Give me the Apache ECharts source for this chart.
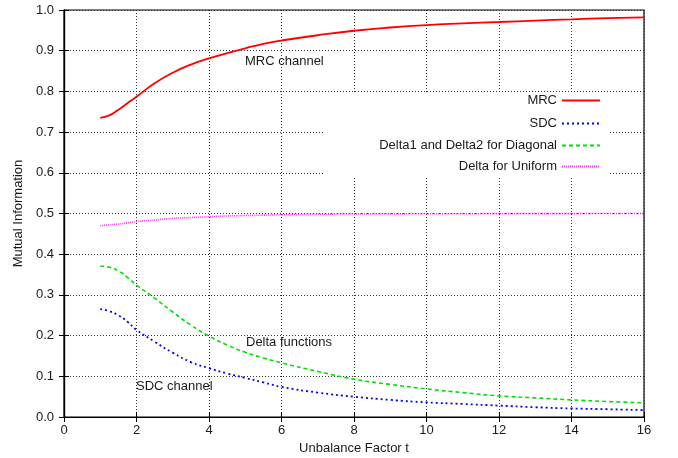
<!DOCTYPE html>
<html><head><meta charset="utf-8">
<script src="https://cdn.jsdelivr.net/npm/echarts@6/dist/echarts.min.js"></script>
<style>html,body{margin:0;padding:0;background:#fff}#c{width:678px;height:458px}</style>
</head><body><div id="c"></div>
<script>
const tValues = [1, 1.25, 1.5, 1.75, 2, 2.5, 3, 3.5, 4, 4.5, 5, 5.5, 6, 7, 8, 9, 10, 11, 12, 13, 14, 15, 16];
const mrc = [0.735, 0.741, 0.755, 0.771, 0.787, 0.820, 0.846, 0.866, 0.881, 0.894, 0.906, 0.917, 0.925, 0.938, 0.949, 0.957, 0.963, 0.967, 0.9705, 0.974, 0.977, 0.980, 0.982];
const sdc = [0.265, 0.260, 0.250, 0.234, 0.214, 0.185, 0.158, 0.135, 0.120, 0.107, 0.096, 0.085, 0.074, 0.060, 0.050, 0.042, 0.036, 0.032, 0.028, 0.024, 0.021, 0.019, 0.017];
const diag = [0.371, 0.368, 0.359, 0.343, 0.324, 0.292, 0.258, 0.226, 0.199, 0.177, 0.159, 0.145, 0.133, 0.112, 0.093, 0.080, 0.069, 0.060, 0.052, 0.047, 0.042, 0.038, 0.035];
const uniform = [0.470, 0.472, 0.474, 0.477, 0.480, 0.484, 0.488, 0.490, 0.492, 0.494, 0.495, 0.496, 0.497, 0.498, 0.499, 0.499, 0.4995, 0.4995, 0.4997, 0.4998, 0.4998, 0.4999, 0.4999];
const seriesNames = ['MRC', 'SDC', 'Delta1 and Delta2 for Diagonal', 'Delta for Uniform'];
const xTicks = [0, 2, 4, 6, 8, 10, 12, 14, 16];
const yTicks = [0, 0.1, 0.2, 0.3, 0.4, 0.5, 0.6, 0.7, 0.8, 0.9, 1.0];
const annotations = [
  {text: 'MRC channel', x: 245, y: 60},
  {text: 'Delta functions', x: 246, y: 341},
  {text: 'SDC channel', x: 136, y: 385}
];

const FONT = '"Liberation Sans", Arial, sans-serif';
const FS = 13;
const TXT = '#1a1a1a';
function pairs(v) { return tValues.map((t, i) => [t, v[i]]); }

const styles = [
  {color: '#ff0000', type: 'solid', width: 1.8},
  {color: '#0000ff', type: [2, 3], width: 1.8},
  {color: '#00e000', type: [4, 3], width: 1.6},
  {color: '#ff33ff', type: [1, 1], width: 1.6}
];
const allData = [mrc, sdc, diag, uniform];
const legendRows = [102, 125, 147, 168];

const chart = echarts.init(document.getElementById('c'), null, {renderer: 'canvas'});
const mirrorTick = {show: true, inside: true, length: 5, lineStyle: {color: '#000', width: 1}};
chart.setOption({
  animation: false,
  backgroundColor: '#fff',
  textStyle: {fontFamily: FONT},
  grid: {left: 64, right: 34, top: 10, bottom: 41, containLabel: false, outerBoundsMode: 'none',
    show: true, borderColor: '#000', borderWidth: 1.2, backgroundColor: 'transparent'},
  xAxis: [{
    type: 'value', min: xTicks[0], max: xTicks[xTicks.length - 1], interval: 2,
    name: 'Unbalance Factor t', nameLocation: 'middle', nameGap: 25,
    nameTextStyle: {fontFamily: FONT, fontSize: FS, color: TXT},
    axisLine: {show: true, onZero: false, lineStyle: {color: '#000', width: 1.2}},
    axisTick: mirrorTick,
    axisLabel: {fontFamily: FONT, fontSize: FS, color: TXT, margin: 7},
    splitLine: {show: true, lineStyle: {color: '#333', type: [1, 2], width: 1}}
  }, {
    type: 'value', position: 'top', min: xTicks[0], max: xTicks[xTicks.length - 1], interval: 2,
    axisLine: {show: true, lineStyle: {color: '#000', width: 1.2}},
    axisTick: mirrorTick, axisLabel: {show: false}, splitLine: {show: false}
  }],
  yAxis: [{
    type: 'value', min: yTicks[0], max: yTicks[yTicks.length - 1], interval: 0.1,
    name: 'Mutual Information', nameLocation: 'middle', nameGap: 39,
    nameTextStyle: {fontFamily: FONT, fontSize: FS, color: TXT},
    axisLine: {show: true, onZero: false, lineStyle: {color: '#000', width: 1.2}},
    axisTick: mirrorTick,
    axisLabel: {fontFamily: FONT, fontSize: FS, color: TXT, margin: 10, formatter: v => v.toFixed(1)},
    splitLine: {show: true, lineStyle: {color: '#333', type: [1, 2], width: 1}}
  }, {
    type: 'value', position: 'right', min: yTicks[0], max: yTicks[yTicks.length - 1], interval: 0.1,
    axisLine: {show: true, lineStyle: {color: '#000', width: 1.2}},
    axisTick: mirrorTick, axisLabel: {show: false}, splitLine: {show: false}
  }],
  legend: seriesNames.map((n, i) => ({
    data: [n], orient: 'horizontal', right: 77, top: legendRows[i] - 8, align: 'right',
    itemWidth: 38, itemHeight: 14, itemGap: 8, padding: 0,
    itemStyle: {opacity: 0},
    textStyle: {fontFamily: FONT, fontSize: FS, color: TXT},
    selectedMode: false
  })),
  graphic: [
    {type: 'rect', z: 1, silent: true, shape: {x: 323, y: 93, width: 285, height: 85}, style: {fill: '#fff'}}
  ].concat(annotations.map(a => ({
    type: 'text', z: 5, left: a.x, top: a.y - 5,
    style: {text: a.text, fill: TXT, font: FS + 'px ' + FONT}
  }))),
  series: seriesNames.map((n, i) => ({
    name: n, type: 'line', smooth: true, symbol: 'none', showSymbol: false,
    xAxisIndex: 0, yAxisIndex: 0, z: 3,
    data: pairs(allData[i]),
    itemStyle: {color: styles[i].color},
    lineStyle: {color: styles[i].color, type: styles[i].type, width: styles[i].width}
  }))
});
</script>
</body></html>
